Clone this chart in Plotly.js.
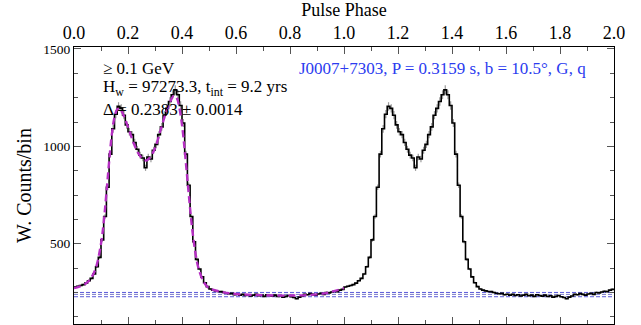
<!DOCTYPE html>
<html>
<head>
<meta charset="utf-8">
<script src="https://cdn.plot.ly/plotly-3.0.1.min.js"></script>
<style>html,body{margin:0;padding:0;background:#fff;}#chart{width:641px;height:325px;}</style>
</head>
<body>
<div id="chart"></div>
<script>
// Light curve, one rotation, bins of 0.01 in phase (repeated for phase 1-2)
const binWidth = 0.01;
const counts = [
 278,282,286,290,298,310,322,345,382,430,
 520,640,790,960,1090,1165,1205,1195,1160,1110,
 1075,1060,1020,985,955,940,890,945,935,980,
 1010,1060,1100,1160,1195,1230,1265,1290,1265,1210,
 1120,960,800,640,510,420,370,330,300,280,
 268,262,258,255,254,250,246,243,245,238,
 241,236,240,234,238,232,236,240,233,236,
 230,238,234,231,236,229,233,226,230,234,
 228,224,218,226,232,240,238,244,240,236,
 242,246,240,250,248,252,256,254,262,266
];
// Fitted template (phase 0-1)
const fitPhase = [0.00,0.02,0.04,0.06,0.08,0.10,0.11,0.12,0.13,0.14,0.15,0.16,0.17,0.18,0.20,0.22,0.24,0.26,0.27,0.28,0.30,0.32,0.34,0.36,0.37,0.38,0.39,0.40,0.41,0.42,0.43,0.44,0.45,0.46,0.48,0.50,0.55,0.60,0.70,0.80,0.90,0.95,1.00];
const fitValue = [272,280,292,318,372,500,610,760,920,1060,1150,1190,1195,1170,1100,1020,960,930,928,940,990,1080,1170,1240,1260,1250,1200,1110,980,830,680,550,450,380,305,272,252,242,236,234,240,252,272];
// Background levels
const bgLevels = [250, 240, 228];
const bgColors = ['#5a5ad8', '#7878c8', '#5a5ad8'];
const xTickVals = [0,0.2,0.4,0.6,0.8,1.0,1.2,1.4,1.6,1.8,2.0];
const yTickVals = [500,1000,1500];

const nCycles = 2;
const edgesX = [], stepY = [], centersX = [], centersY = [];
for (let c = 0; c < nCycles; c++) {
  counts.forEach((v, i) => {
    edgesX.push(c + i * binWidth);
    stepY.push(v);
    centersX.push(c + (i + 0.5) * binWidth);
    centersY.push(v);
  });
}
edgesX.push(nCycles);
stepY.push(counts[counts.length - 1]);

const serif = 'Liberation Serif';

const traces = [
  {x: centersX, y: centersY, mode: 'markers', marker: {size: 0.1, color: 'rgba(0,0,0,0)'},
   error_y: {type: 'percent', value: 1.8, color: '#9a9a9a', thickness: 1.2, width: 0}, hoverinfo: 'skip', showlegend: false},
  {x: edgesX, y: stepY, mode: 'lines', line: {shape: 'hv', color: '#000', width: 1.6}, showlegend: false},
  {x: fitPhase, y: fitValue, mode: 'lines', line: {shape: 'spline', color: '#b52fc2', width: 2.4, dash: '7px,4px'}, showlegend: false}
];

const shapes = bgLevels.map((lv, k) => ({
  type: 'line', xref: 'paper', x0: 0, x1: 1, yref: 'y', y0: lv, y1: lv,
  line: {color: bgColors[k], width: 1, dash: '4px,2px'}, layer: 'below'
}));

const layout = {
  width: 641, height: 325,
  margin: {l: 74, r: 27, t: 47, b: 1},
  paper_bgcolor: '#fff', plot_bgcolor: '#fff',
  font: {family: serif, color: '#000', size: 15},
  showlegend: false,
  xaxis: {
    range: [0, 2], side: 'top', tickvals: xTickVals, tickformat: '.1f',
    ticks: 'inside', ticklen: 7, tickcolor: '#555', mirror: 'ticks',
    showline: true, linecolor: '#000', linewidth: 1, showgrid: false, zeroline: false,
    tickfont: {size: 18, family: serif},
    minor: {dtick: 0.1, ticks: 'inside', ticklen: 4, tickcolor: '#555', showgrid: false},
    title: {text: 'Pulse Phase', font: {size: 18, family: serif}, standoff: 1}
  },
  yaxis: {
    range: [88, 1510], tickvals: yTickVals,
    ticks: 'inside', ticklen: 7, tickcolor: '#555', mirror: 'ticks',
    showline: true, linecolor: '#000', linewidth: 1, showgrid: false, zeroline: false,
    tickfont: {size: 13.5, family: serif},
    minor: {dtick: 125, ticks: 'inside', ticklen: 4, tickcolor: '#555', showgrid: false},
    title: {text: 'W. Counts/bin', font: {size: 20, family: serif}, standoff: 6}
  },
  shapes: shapes,
  annotations: [
    {xref: 'paper', yref: 'paper', x: 0.05, y: 0.924, xanchor: 'left', yanchor: 'middle', showarrow: false,
     text: '≥ 0.1 GeV', font: {size: 17, family: serif, color: '#000'}},
    {xref: 'paper', yref: 'paper', x: 0.05, y: 0.852, xanchor: 'left', yanchor: 'middle', showarrow: false,
     text: 'H<sub>w</sub> = 97273.3, t<sub>int</sub> = 9.2 yrs', font: {size: 17, family: serif, color: '#000'}},
    {xref: 'paper', yref: 'paper', x: 0.05, y: 0.773, xanchor: 'left', yanchor: 'middle', showarrow: false,
     text: 'Δ = 0.2383 ± 0.0014', font: {size: 17, family: serif, color: '#000'}},
    {xref: 'paper', yref: 'paper', x: 0.413, y: 0.924, xanchor: 'left', yanchor: 'middle', showarrow: false,
     text: 'J0007+7303, P = 0.3159 s, b = 10.5°, G, q', font: {size: 17, family: serif, color: '#2b3bef'}}
  ]
};

Plotly.newPlot('chart', traces, layout, {staticPlot: true, displayModeBar: false});
</script>
</body>
</html>
